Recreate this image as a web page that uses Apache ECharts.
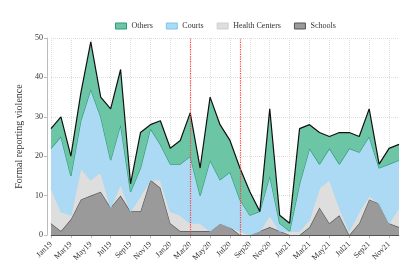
<!DOCTYPE html>
<html><head><meta charset="utf-8">
<script src="https://cdn.jsdelivr.net/npm/echarts@6/dist/echarts.min.js"></script>
<style>html,body{margin:0;padding:0;background:#fff}#c{width:415px;height:277px}</style>
</head><body><div id="c"></div>
<script>
const months = ['Jan19','Feb19','Mar19','Apr19','May19','Jun19','Jul19','Aug19','Sep19','Oct19','Nov19','Dec19',
'Jan20','Feb20','Mar20','Apr20','May20','Jun20','Jul20','Aug20','Sep20','Oct20','Nov20','Dec20',
'Jan21','Feb21','Mar21','Apr21','May21','Jun21','Jul21','Aug21','Sep21','Oct21','Nov21','Dec21'];
// cumulative levels
const schools = [3,1,4,9,10,11,7,10,6,6,14,12, 3,1,1,1,1,3,2,0,0,1,2,1, 0,0,2,7,3,5,0,3,9,8,3,2];
const healthTop = [12,6,5,17,14,16,7,13,6,10,14,14, 6,5,3,3,1,3,2,1,0,1,5,1, 1,1,4,12,14,7,1,6,10,8,3,7];
const courtsTop = [22,25,15,29,37,30,19,28,11,17,27,23, 18,18,20,10,19,14,16,9,5,6,15,3, 1,13,22,18,22,18,22,21,25,17,18,19];
const totalTop = [27,30,20,36,49,35,32,42,13,26,28,29, 22,24,31,17,35,28,24,17,11,6,32,5, 3,27,28,26,25,26,26,25,32,18,22,23];
const health = healthTop.map((v,i)=>v-schools[i]);
const courts = courtsTop.map((v,i)=>v-healthTop[i]);
const others = totalTop.map((v,i)=>v-courtsTop[i]);
const yTicks = [0,10,20,30,40,50];
const eventMonths = ['Mar20','Aug20'];

const font = '"Liberation Serif","DejaVu Serif",serif';
const chart = echarts.init(document.getElementById('c'));
function s(name, data, fill, line, z, extra){
  return Object.assign({
    name, type:'line', stack:'total', data, symbol:'none', z,
    lineStyle:{color:line,width:1.2}, areaStyle:{color:fill,opacity:1},
    itemStyle:{color:fill}, emphasis:{disabled:true}
  }, extra||{});
}
function leg(name, fill, border){
  return {name, icon:'rect', itemStyle:{color:fill,borderColor:border,borderWidth:1}, lineStyle:{opacity:0}};
}
chart.setOption({
  animation:false,
  textStyle:{fontFamily:font},
  legend:{
    data:[leg('Others','#6cc6a6','#2a9d74'),leg('Courts','#acdaf4','#7fc4ec'),
          leg('Health Centers','#dedede','#cfcfcf'),leg('Schools','#9a9a9a','#555555')],
    top:17, left:110, itemWidth:11, itemHeight:6, itemGap:13,
    textStyle:{fontFamily:font,fontSize:8,color:'#333'}
  },
  grid:{left:51, right:16, top:38, bottom:42},
  xAxis:{
    type:'category', data:months, boundaryGap:false, offset:4,
    axisLine:{lineStyle:{color:'#bbb'}},
    axisTick:{show:true,interval:1,lineStyle:{color:'#bbb'},length:3},
    axisLabel:{interval:1, rotate:45, fontSize:8, color:'#333', fontFamily:font, margin:4},
    splitLine:{show:true,interval:1,lineStyle:{color:'#ddd',type:'dotted'}}
  },
  yAxis:{
    type:'value', min:yTicks[0], max:yTicks[yTicks.length-1], interval:10, offset:4,
    name:'Formal reporting violence', nameLocation:'middle', nameGap:22,
    nameTextStyle:{fontFamily:font,fontSize:10,color:'#333'},
    axisLine:{show:true,lineStyle:{color:'#bbb'}},
    axisTick:{show:true,lineStyle:{color:'#bbb'},length:3},
    axisLabel:{fontSize:8,color:'#333',fontFamily:font,margin:4},
    splitLine:{show:true,lineStyle:{color:'#ddd',type:'dotted'}}
  },
  series:[
    s('Schools', schools, '#9a9a9a', '#555555', 1, {
      markLine:{silent:true,symbol:'none',label:{show:false},
        lineStyle:{color:'#555',type:'solid',width:1.2},
        data:[{yAxis:0}]}
    }),
    s('Health Centers', health, '#dedede', '#a8d8f0', 2),
    s('Courts', courts, '#acdaf4', '#2a9d74', 3),
    s('Others', others, '#6cc6a6', '#111111', 4, {
      markLine:{silent:true,symbol:'none',label:{show:false},z:10,
        lineStyle:{color:'#ff3b3b',type:'dotted',width:1.2},
        data:eventMonths.map(m=>({xAxis:m}))}
    })
  ]
});
</script></body></html>
